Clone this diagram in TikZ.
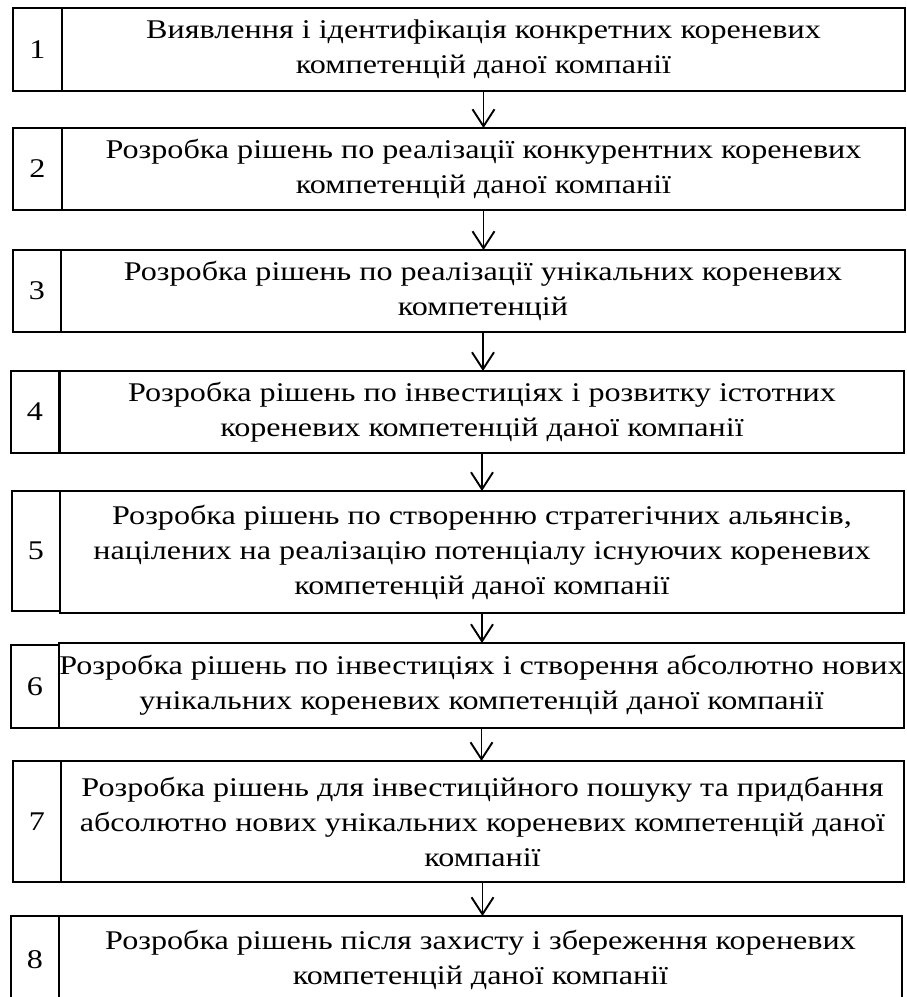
\documentclass[tikz,border=0pt]{standalone}
\usepackage{fontspec}
\setmainfont{Liberation Serif}[FakeStretch=1.19]
\usetikzlibrary{arrows.meta}
\begin{document}
\begin{tikzpicture}[x=1pt,y=-1pt,
  numbox/.style={draw,line width=1.2pt,anchor=north west,inner sep=0pt,outer sep=0pt,
    font=\fontsize{27}{35}\selectfont},
  mainbox/.style={draw,line width=1.2pt,anchor=north west,inner xsep=0pt,inner ysep=0pt,outer sep=0pt,
    align=center,font=\fontsize{27}{35}\selectfont},
  arr/.style={line width=1.9pt,-{Straight Barb[length=17pt,width=22pt,line width=1.9pt]}}]
\clip (0,0) rectangle (906,997);
\fill[white] (0,0) rectangle (906,997);
% 1
\node[numbox,minimum width=49pt,minimum height=83pt] (n1) at (13,8) {1};
\node[mainbox,minimum width=843pt,minimum height=83pt] (m1) at (62,8)
  {Виявлення і ідентифікація конкретних кореневих\\компетенцій даної компанії};
% 2
\node[numbox,minimum width=49pt,minimum height=82pt] (n2) at (13,128) {2};
\node[mainbox,minimum width=843pt,minimum height=82pt] (m2) at (62,128)
  {Розробка рішень по реалізації конкурентних кореневих\\компетенцій даної компанії};
% 3
\node[numbox,minimum width=48pt,minimum height=82pt] (n3) at (13,250) {3};
\node[mainbox,minimum width=844pt,minimum height=82pt] (m3) at (61,250)
  {Розробка рішень по реалізації унікальних кореневих\\компетенцій};
% 4
\node[numbox,minimum width=48pt,minimum height=82pt] (n4) at (11,371) {4};
\node[mainbox,minimum width=844pt,minimum height=82pt] (m4) at (60,371)
  {Розробка рішень по інвестиціях і розвитку істотних\\кореневих компетенцій даної компанії};
% 5
\node[numbox,minimum width=48pt,minimum height=120pt] (n5) at (12,491) {5};
\node[mainbox,minimum width=844pt,minimum height=122pt] (m5) at (60,491)
  {Розробка рішень по створенню стратегічних альянсів,\\націлених на реалізацію потенціалу існуючих кореневих\\компетенцій даної компанії};
% 6
\node[numbox,minimum width=48pt,minimum height=83pt] (n6) at (11,645) {6};
\node[mainbox,minimum width=845pt,minimum height=85pt] (m6) at (59,643)
  {Розробка рішень по інвестиціях і створення абсолютно нових\\унікальних кореневих компетенцій даної компанії};
% 7
\node[numbox,minimum width=48pt,minimum height=121pt] (n7) at (13,761) {7};
\node[mainbox,minimum width=843pt,minimum height=121pt] (m7) at (61,761)
  {Розробка рішень для інвестиційного пошуку та придбання\\абсолютно нових унікальних кореневих компетенцій даної\\компанії};
% 8
\node[numbox,minimum width=48pt,minimum height=88pt] (n8) at (11,916) {8};
\node[mainbox,minimum width=843pt,minimum height=88pt] (m8) at (59,916)
  {Розробка рішень після захисту і збереження кореневих\\компетенцій даної компанії};
% arrows
\draw[arr] (m1.south) -- (m1.south |- m2.north);
\draw[arr] (m2.south) -- (m2.south |- m3.north);
\draw[arr] (m3.south) -- (m3.south |- m4.north);
\draw[arr] (m4.south) -- (m4.south |- m5.north);
\draw[arr] (m5.south) -- (m5.south |- m6.north);
\draw[arr] (m6.south) -- (m6.south |- m7.north);
\draw[arr] (m7.south) -- (m7.south |- m8.north);
\end{tikzpicture}
\end{document}
